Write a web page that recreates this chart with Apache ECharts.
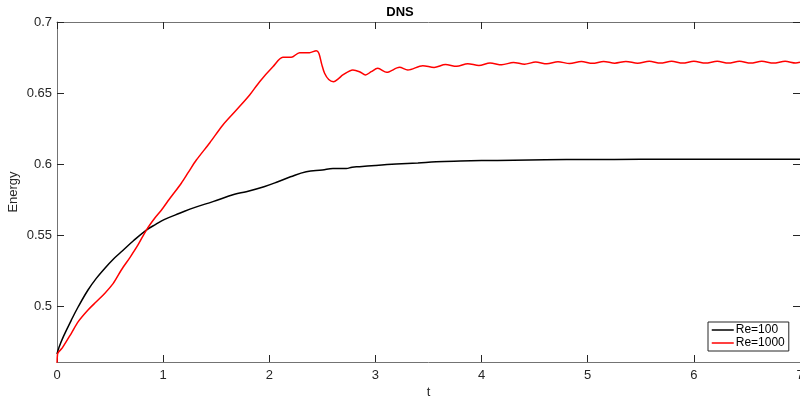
<!DOCTYPE html>
<html>
<head>
<meta charset="utf-8">
<script src="https://cdn.jsdelivr.net/npm/echarts@6/dist/echarts.min.js"></script>
<style>html,body{margin:0;padding:0;background:#fff}#c{width:800px;height:398px}</style>
</head>
<body>
<div id="c"></div>
<script>
// ---- data ----
var tBlack = [0, 0.02, 0.06, 0.135, 0.2, 0.292, 0.37, 0.449, 0.53, 0.606, 0.72, 0.842, 0.93, 1.014, 1.155, 1.3, 1.469, 1.673, 1.783, 1.95, 2.081, 2.2, 2.348, 2.5, 2.6, 2.725, 2.78, 2.85, 3.0, 3.196, 3.4, 3.572, 3.8, 4.0, 4.3, 4.6, 5.0, 5.5, 6.0, 6.5, 7.0];
var eBlack = [0.4662, 0.4712, 0.4785, 0.4901, 0.4995, 0.5113, 0.5195, 0.5265, 0.533, 0.5382, 0.546, 0.5535, 0.5575, 0.561, 0.5653, 0.5695, 0.5735, 0.5787, 0.5805, 0.584, 0.5875, 0.591, 0.5946, 0.5958, 0.5968, 0.5968, 0.5978, 0.5981, 0.599, 0.600, 0.6008, 0.6016, 0.6021, 0.6024, 0.6027, 0.603, 0.6032, 0.6033, 0.6034, 0.6034, 0.6034];

var tRed = [0, 0.005, 0.05, 0.135, 0.2, 0.292, 0.37, 0.449, 0.53, 0.606, 0.69, 0.763, 0.842, 0.92, 0.983, 1.061, 1.171, 1.24, 1.313, 1.44, 1.563, 1.69, 1.815, 1.909, 2.034, 2.128, 2.207, 2.285, 2.379, 2.443, 2.467, 2.495, 2.521, 2.56, 2.605, 2.65, 2.693, 2.787, 2.85, 2.907, 2.96, 3.022, 3.107, 3.227, 3.305,
  3.446, 3.553, 3.66, 3.765, 3.87, 3.975, 4.08, 4.19, 4.30, 4.405, 4.51, 4.615, 4.72, 4.83, 4.94, 5.045, 5.15, 5.255, 5.36, 5.47, 5.58, 5.685, 5.79, 5.895, 6.00, 6.11, 6.22, 6.325, 6.43, 6.535, 6.64, 6.75, 6.86, 6.96, 7.0];
var eRed = [0.455, 0.4662, 0.4705, 0.4808, 0.489, 0.4972, 0.503, 0.5089, 0.516, 0.5254, 0.5345, 0.543, 0.5535, 0.5618, 0.5675, 0.5755, 0.5865, 0.5945, 0.6028, 0.615, 0.6275, 0.638, 0.6486, 0.658, 0.6685, 0.6751, 0.6751, 0.6784, 0.6784, 0.6798, 0.678, 0.670, 0.6639, 0.6595, 0.658, 0.660, 0.6627, 0.6662, 0.665, 0.6627, 0.665, 0.6674, 0.6646, 0.6681, 0.6662,
  0.6692, 0.6680, 0.6700, 0.6688, 0.6706, 0.6694, 0.6711, 0.6699, 0.6715, 0.6703, 0.6718, 0.6706, 0.6720, 0.6708, 0.6721, 0.6709, 0.6722, 0.6710, 0.6722, 0.6710, 0.6723, 0.6711, 0.6723, 0.6711, 0.6723, 0.6711, 0.6723, 0.6711, 0.6723, 0.6711, 0.6723, 0.6711, 0.6723, 0.6711, 0.6716];

var yTicks = [0.5, 0.55, 0.6, 0.65, 0.7];
var seriesNames = ['Re=100', 'Re=1000'];
var chartTitle = 'DNS';

function pairs(t, e) { return t.map(function (v, i) { return [v, e[i]]; }); }

var font = 'Liberation Sans, Arial, Helvetica, sans-serif';
var axisLineStyle = { color: '#737373', width: 1 };
var tickStyle = { color: '#262626', width: 1 };

var chart = echarts.init(document.getElementById('c'), null, { renderer: 'canvas' });
chart.setOption({
  animation: false,
  backgroundColor: '#fff',
  textStyle: { fontFamily: font },
  title: {
    text: chartTitle, left: 'center', top: 1,
    textStyle: { fontFamily: font, fontSize: 13, fontWeight: 'bold', color: '#000' }
  },
  grid: { left: 57, right: 0, top: 22, bottom: 36, containLabel: false, outerBoundsMode: 'none' },
  legend: {
    orient: 'vertical', left: 708, top: 322,
    padding: [2, 4, 2, 3], itemGap: 1, itemWidth: 22, itemHeight: 13,
    backgroundColor: '#fff', borderColor: '#262626', borderWidth: 1,
    itemStyle: { opacity: 0 },
    lineStyle: { width: 1.5 },
    textStyle: { fontFamily: font, fontSize: 12, color: '#000', padding: [0, 0, 0, -3] },
    data: seriesNames
  },
  xAxis: [{
    type: 'value', min: 0, max: 7, interval: 1, position: 'bottom',
    name: 't', nameLocation: 'middle', nameGap: 24, nameMoveOverlap: false,
    nameTextStyle: { fontFamily: font, fontSize: 13, color: '#262626' },
    axisLine: { show: true, onZero: false, lineStyle: axisLineStyle },
    axisTick: { show: true, inside: true, length: 7, lineStyle: tickStyle },
    axisLabel: { fontFamily: font, fontSize: 13, color: '#262626', margin: 7 },
    splitLine: { show: false }
  }, {
    type: 'value', min: 0, max: 7, interval: 1, position: 'top',
    axisLine: { show: true, onZero: false, lineStyle: axisLineStyle },
    axisTick: { show: true, inside: true, length: 7, lineStyle: tickStyle },
    axisLabel: { show: false }, splitLine: { show: false }
  }],
  yAxis: [{
    type: 'value', min: 0.4606, max: 0.7, position: 'left',
    name: 'Energy', nameLocation: 'middle', nameGap: 37, nameRotate: 90, nameMoveOverlap: false,
    nameTextStyle: { fontFamily: font, fontSize: 13, color: '#262626' },
    axisLine: { show: true, onZero: false, lineStyle: axisLineStyle },
    axisTick: { show: true, inside: true, length: 7, lineStyle: tickStyle, customValues: yTicks },
    axisLabel: { fontFamily: font, fontSize: 13, color: '#262626', margin: 5, customValues: yTicks,
      formatter: function (v) { return String(+v.toFixed(2)); } },
    splitLine: { show: false }
  }, {
    type: 'value', min: 0.4606, max: 0.7, position: 'right',
    axisLine: { show: true, onZero: false, lineStyle: axisLineStyle },
    axisTick: { show: true, inside: true, length: 7, lineStyle: tickStyle, customValues: yTicks },
    axisLabel: { show: false }, splitLine: { show: false }
  }],
  series: [{
    name: seriesNames[0], type: 'line', xAxisIndex: 0, yAxisIndex: 0,
    showSymbol: false, symbol: 'none', clip: true, smooth: 0.4,
    lineStyle: { color: '#000000', width: 1.5 }, itemStyle: { color: '#000000' },
    data: pairs(tBlack, eBlack)
  }, {
    name: seriesNames[1], type: 'line', xAxisIndex: 0, yAxisIndex: 0,
    showSymbol: false, symbol: 'none', clip: true, smooth: 0.3,
    lineStyle: { color: '#ff0000', width: 1.5 }, itemStyle: { color: '#ff0000' },
    data: pairs(tRed, eRed)
  }]
});
</script>
</body>
</html>
